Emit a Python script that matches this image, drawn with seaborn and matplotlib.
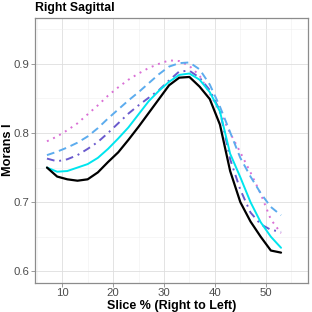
import numpy as np
import pandas as pd
import seaborn as sns
import matplotlib
matplotlib.use("Agg")
import matplotlib.pyplot as plt
from matplotlib.ticker import MultipleLocator

slice_pct = [7, 9, 11, 13, 15, 17, 19, 21, 23, 25, 27, 29, 31, 33, 35, 37, 39, 41, 43, 45, 47, 49, 51, 53]

black_vals = [0.750, 0.737, 0.733, 0.731, 0.733, 0.743, 0.758, 0.772, 0.790, 0.809, 0.829, 0.849,
              0.869, 0.880, 0.881, 0.867, 0.849, 0.812, 0.745, 0.700, 0.672, 0.650, 0.630, 0.627]
cyan_vals = [0.750, 0.744, 0.745, 0.750, 0.755, 0.764, 0.777, 0.792, 0.808, 0.827, 0.846, 0.861,
             0.874, 0.884, 0.886, 0.877, 0.859, 0.831, 0.770, 0.736, 0.700, 0.671, 0.650, 0.634]
purple_vals = [0.763, 0.759, 0.762, 0.768, 0.777, 0.787, 0.800, 0.814, 0.828, 0.840, 0.851, 0.862,
               0.876, 0.889, 0.890, 0.880, 0.862, 0.832, 0.762, 0.718, 0.685, 0.668, 0.660, 0.657]
blue_vals = [0.768, 0.773, 0.779, 0.786, 0.795, 0.807, 0.821, 0.834, 0.847, 0.859, 0.872, 0.885,
             0.896, 0.901, 0.902, 0.892, 0.870, 0.838, 0.801, 0.764, 0.737, 0.713, 0.693, 0.681]
pink_vals = [0.788, 0.795, 0.804, 0.814, 0.827, 0.840, 0.854, 0.866, 0.877, 0.886, 0.894, 0.900,
             0.905, 0.904, 0.897, 0.883, 0.857, 0.830, 0.800, 0.772, 0.743, 0.712, 0.675, 0.655]

series = {
    "black": black_vals,
    "cyan": cyan_vals,
    "purple": purple_vals,
    "blue": blue_vals,
    "pink": pink_vals,
}
styles = {
    "black": dict(color="black", lw=1.6, ls="-"),
    "cyan": dict(color="#00E5EE", lw=1.4, ls="-"),
    "purple": dict(color="#6A5ACD", lw=1.4, ls=(0, (4, 2.5, 1, 2.5))),
    "blue": dict(color="#5CACEE", lw=1.4, ls=(0, (4, 2.5))),
    "pink": dict(color="#DA70D6", lw=1.4, ls=(0, (1, 2.5))),
}

rows = []
for name, vals in series.items():
    for x, y in zip(slice_pct, vals):
        rows.append({"slice": x, "moran": y, "group": name})
df = pd.DataFrame(rows)

sns.set_theme(style="white")
plt.rcParams["font.family"] = ["Liberation Sans", "DejaVu Sans"]

fig = plt.figure(figsize=(3.12, 3.12), dpi=100)
ax = fig.add_axes([35/312, 1 - 282.7/312, (308 - 35)/312, (282.7 - 17.5)/312])

for name in ["pink", "blue", "purple", "cyan", "black"]:
    sub = df[df["group"] == name]
    st = styles[name]
    sns.lineplot(data=sub, x="slice", y="moran", ax=ax, color=st["color"],
                 linewidth=st["lw"], linestyle=st["ls"], legend=False, zorder=3)

ax.set_xlim(4.65, 58.3)
ax.set_ylim(0.5835, 0.967)
ax.xaxis.set_major_locator(MultipleLocator(10))
ax.xaxis.set_minor_locator(MultipleLocator(5))
ax.yaxis.set_major_locator(MultipleLocator(0.1))
ax.yaxis.set_minor_locator(MultipleLocator(0.05))
ax.set_xticks([10, 20, 30, 40, 50])
ax.set_xticklabels(["10", "20", "30", "40", "50"])
ax.set_yticks([0.6, 0.7, 0.8, 0.9])
ax.set_yticklabels(["0.6", "0.7", "0.8", "0.9"])

ax.grid(True, which="major", color="#DEDEDE", lw=0.6, zorder=0)
ax.grid(True, which="minor", color="#EFEFEF", lw=0.4, zorder=0)
for s in ax.spines.values():
    s.set_color("#8C8C8C")
    s.set_linewidth(0.9)
ax.tick_params(axis="both", which="major", length=2.7, width=0.6, color="#8C8C8C",
               labelcolor="#4D4D4D", labelsize=8.2, pad=1.2, bottom=True, left=True)
ax.tick_params(axis="both", which="minor", length=0)

ax.set_xlabel("Slice % (Right to Left)", fontsize=9, fontweight="bold", color="black", labelpad=1)
ax.set_ylabel("Morans I", fontsize=9.2, fontweight="bold", color="black")
ax.yaxis.set_label_coords(-(35 - 14.5) / 273, 0.5)
fig.text(35/312, 1 - 8.5/312, "Right Sagittal", fontsize=8.8, fontweight="bold",
         ha="left", va="center", color="black")

fig.savefig("out.png", dpi=100)
